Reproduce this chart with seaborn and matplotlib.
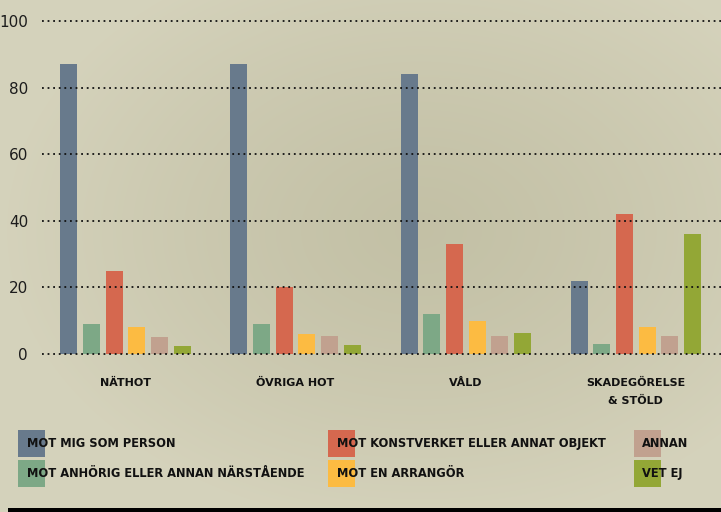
import matplotlib
matplotlib.use("Agg")
import matplotlib.pyplot as plt
import seaborn as sns
import pandas as pd
import numpy as np
from matplotlib.patches import Rectangle

categories = ["NÄTHOT", "ÖVRIGA HOT", "VÅLD", "SKADEGÖRELSE\n& STÖLD"]
series = [
    "MOT MIG SOM PERSON",
    "MOT ANHÖRIG ELLER ANNAN NÄRSTÅENDE",
    "MOT KONSTVERKET ELLER ANNAT OBJEKT",
    "MOT EN ARRANGÖR",
    "ANNAN",
    "VET EJ",
]
mot_mig = [87, 87, 84, 22]
mot_anhorig = [9, 9, 12, 3]
mot_konstverket = [25, 20, 33, 42]
mot_arrangor = [8, 6, 10, 8]
annan = [5, 5.5, 5.5, 5.5]
vet_ej = [2.5, 2.7, 6.2, 36]
colors = ["#687a8c", "#7da886", "#d5684f", "#fcbb42", "#c1a18f", "#93a736"]
yticks = [0, 20, 40, 60, 80, 100]
ytick_labels = ["0", "20", "40", "60", "80", "100"]

values = [mot_mig, mot_anhorig, mot_konstverket, mot_arrangor, annan, vet_ej]
rows = []
for s, vals in zip(series, values):
    for c, v in zip(categories, vals):
        rows.append({"kategori": c, "serie": s, "andel": v})
df = pd.DataFrame(rows)

sns.set_theme(style="white")
bg = "#c9c6ac"
W, H = 721, 512
fig = plt.figure(figsize=(7.21, 5.12), dpi=100, facecolor=bg)

# subtle paper-like background shading (decorative)
yy, xx = np.mgrid[0:H, 0:W]
light = np.array([0.835, 0.825, 0.735])
dark = np.array([0.765, 0.755, 0.650])
d = np.clip(np.sqrt(((xx - 420) / 420.0) ** 2 + ((yy - 230) / 300.0) ** 2), 0, 1)
t = (d ** 1.3)[..., None]
img = dark * (1 - t) + light * t
fig.figimage(img, xo=0, yo=0, origin="upper", zorder=-5)

ax = fig.add_axes([42 / W, (H - 357.3) / H, 679 / W, (357.3 - 17.7) / H])
ax.set_zorder(3)
ax.set_facecolor("none")
ax.patch.set_alpha(0)

sns.barplot(data=df, x="kategori", y="andel", hue="serie", hue_order=series,
            order=categories, palette=colors, width=0.8, gap=0.25,
            saturation=1, legend=False, ax=ax, linewidth=0)

ax.set_xlim(-0.49, 3.5)
ax.set_ylim(-1, 101)
ax.set_yticks(yticks)
ax.set_yticklabels(ytick_labels, fontsize=11, color="#1c1c1c")
ax.set_xlabel("")
ax.set_ylabel("")
for sp in ax.spines.values():
    sp.set_visible(False)
ax.set_axisbelow(False)
ax.yaxis.grid(True, color="#111111", linewidth=1.3, linestyle=(0, (1, 2.1)))
ax.xaxis.grid(False)
ax.tick_params(axis="y", length=0, pad=10)
ax.tick_params(axis="x", length=0, pad=15)
for lbl in ax.get_xticklabels():
    lbl.set_fontsize(8)
    lbl.set_fontweight("bold")
    lbl.set_color("#111111")
    lbl.set_linespacing(1.9)

# legend: squares with text overlapping
sq = 27
col_x = [18, 328, 634]
text_x = [27, 337, 642]
row_y = [430, 460]
for i, (name, col) in enumerate(zip(series, colors)):
    c, r = divmod(i, 2)
    x0, y0 = col_x[c], row_y[r]
    fig.patches.append(Rectangle((x0 / W, (H - y0 - sq) / H), sq / W, sq / H,
                                 transform=fig.transFigure, facecolor=col,
                                 edgecolor="none", zorder=1))
    fig.text(text_x[c] / W, (H - y0 - sq / 2) / H, name, fontsize=8.3,
             fontweight="bold", color="#111111", va="center", ha="left",
             zorder=2)

# bottom black band
fig.patches.append(Rectangle((8 / W, 0), (W - 8) / W, 4 / H,
                             transform=fig.transFigure, facecolor="black",
                             edgecolor="none", zorder=2))

fig.savefig("out.png", dpi=100, facecolor=bg)
